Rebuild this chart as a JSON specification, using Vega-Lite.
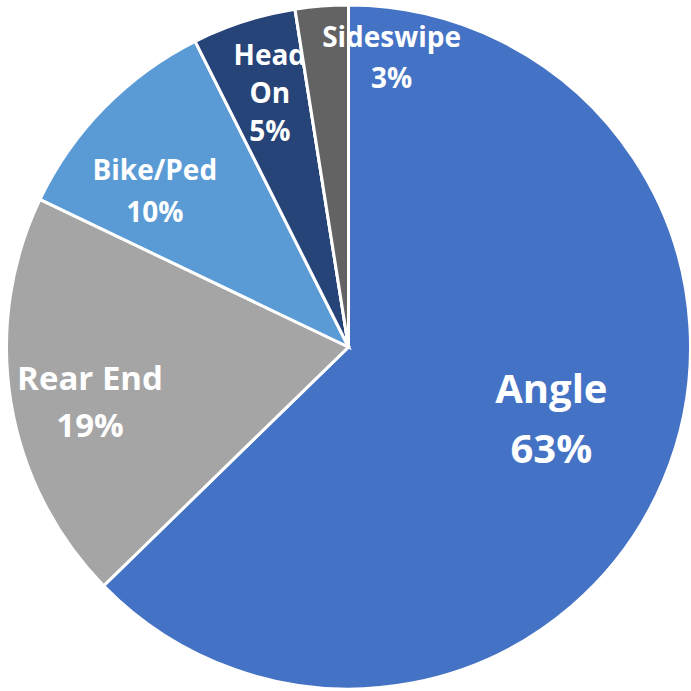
{
  "$schema": "https://vega.github.io/schema/vega-lite/v6.json",
  "width": 691,
  "height": 691,
  "autosize": {"type": "fit", "contains": "padding"},
  "padding": {"left": 6, "top": 3, "right": 0, "bottom": 0},
  "background": "white",
  "config": {"view": {"stroke": null}},
  "data": {
    "values": [
      {"category": "Angle", "label": "Angle\n63%", "value": 62.7, "rank": 1},
      {"category": "Rear End", "label": "Rear End\n19%", "value": 19.4, "rank": 2},
      {"category": "Bike/Ped", "label": "Bike/Ped\n10%", "value": 10.5, "rank": 3},
      {"category": "Head On", "label": "Head\nOn\n5%", "value": 4.9, "rank": 4},
      {"category": "Sideswipe", "label": "Sideswipe\n3%", "value": 2.5, "rank": 5}
    ]
  },
  "encoding": {
    "theta": {"field": "value", "type": "quantitative", "stack": true},
    "order": {"field": "rank", "type": "quantitative"},
    "color": {
      "field": "category",
      "type": "nominal",
      "scale": {
        "domain": ["Angle", "Rear End", "Bike/Ped", "Head On", "Sideswipe"],
        "range": ["#4472C4", "#A5A5A5", "#5B9BD5", "#264478", "#636363"]
      },
      "legend": null
    }
  },
  "layer": [
    {"mark": {"type": "arc", "outerRadius": 342, "stroke": "white", "strokeWidth": 3}},
    {
      "mark": {"type": "text", "radius": 219, "dx": 1, "dy": -41, "font": "Open Sans", "fontWeight": "bold", "fontSize": 40, "lineHeight": 60, "lineBreak": "\n", "fill": "white", "align": "center", "baseline": "middle"},
      "encoding": {"text": {"condition": {"test": "datum.category === 'Angle'", "field": "label"}, "value": ""}, "color": {"value": "white"}}
    },
    {
      "mark": {"type": "text", "radius": 264, "dx": 2, "dy": -10, "font": "Open Sans", "fontWeight": "bold", "fontSize": 33, "lineHeight": 47, "lineBreak": "\n", "fill": "white", "align": "center", "baseline": "middle"},
      "encoding": {"text": {"condition": {"test": "datum.category === 'Rear End'", "field": "label"}, "value": ""}, "color": {"value": "white"}}
    },
    {
      "mark": {"type": "text", "radius": 249, "dx": -16, "dy": -1, "font": "Open Sans", "fontWeight": "bold", "fontSize": 28, "lineHeight": 42, "lineBreak": "\n", "fill": "white", "align": "center", "baseline": "middle"},
      "encoding": {"text": {"condition": {"test": "datum.category === 'Bike/Ped'", "field": "label"}, "value": ""}, "color": {"value": "white"}}
    },
    {
      "mark": {"type": "text", "radius": 267, "dx": 3, "dy": -36, "font": "Open Sans", "fontWeight": "bold", "fontSize": 28, "lineHeight": 38, "lineBreak": "\n", "fill": "white", "align": "center", "baseline": "middle"},
      "encoding": {"text": {"condition": {"test": "datum.category === 'Head On'", "field": "label"}, "value": ""}, "color": {"value": "white"}}
    },
    {
      "mark": {"type": "arc", "outerRadius": 342, "stroke": "white", "strokeWidth": 3},
      "encoding": {"opacity": {"condition": {"test": "datum.category === 'Sideswipe'", "value": 1}, "value": 0}}
    },
    {
      "mark": {"type": "text", "radius": 292, "dx": 66, "dy": -17, "font": "Open Sans", "fontWeight": "bold", "fontSize": 28, "lineHeight": 41, "lineBreak": "\n", "fill": "white", "align": "center", "baseline": "middle"},
      "encoding": {"text": {"condition": {"test": "datum.category === 'Sideswipe'", "field": "label"}, "value": ""}, "color": {"value": "white"}}
    }
  ]
}
